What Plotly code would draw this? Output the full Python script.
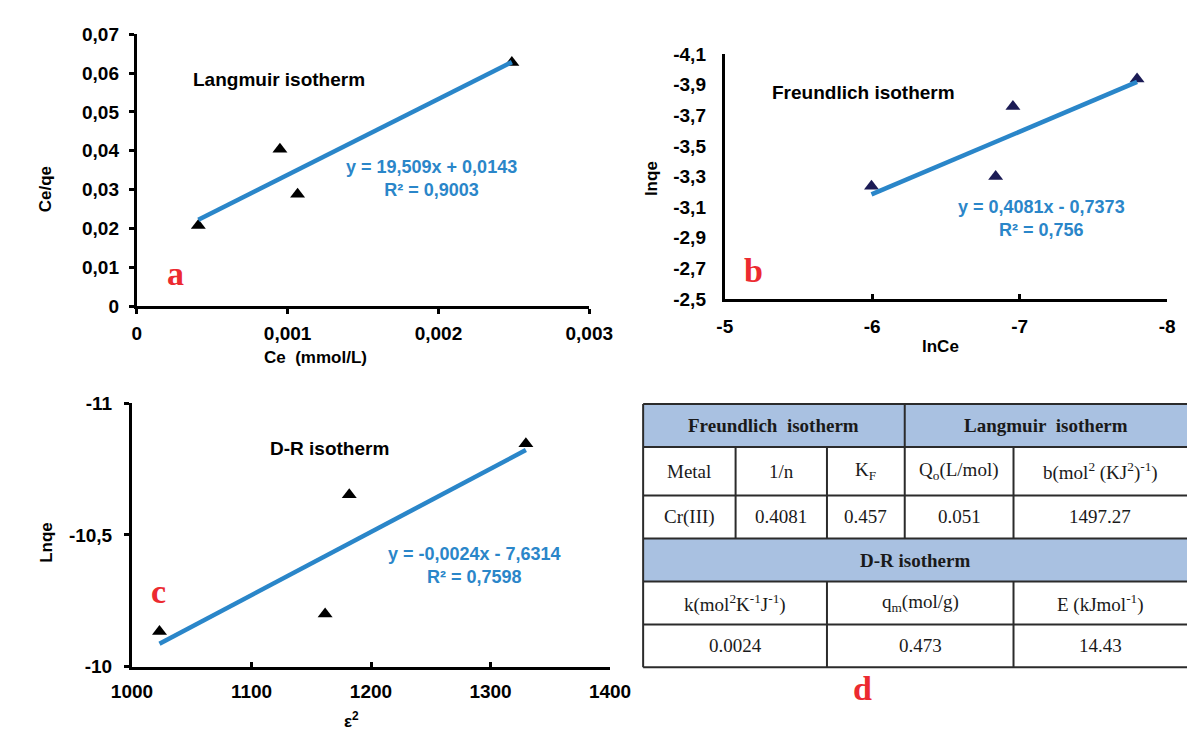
import plotly.graph_objects as go

W, H = 1203, 733

# ---------------- data ----------------
# (a) Langmuir
lang_ce = [0.000408, 0.000949, 0.001066, 0.002487]
lang_ce_qe = [0.0208, 0.0404, 0.0288, 0.0627]
lang_slope, lang_intercept = 19.509, 0.0143
lang_eq = ["y = 19,509x + 0,0143", "R² = 0,9003"]
lang_xtick_vals = [0, 0.001, 0.002, 0.003]
lang_xtick_text = ["0", "0,001", "0,002", "0,003"]
lang_ytick_vals = [0, 0.01, 0.02, 0.03, 0.04, 0.05, 0.06, 0.07]
lang_ytick_text = ["0", "0,01", "0,02", "0,03", "0,04", "0,05", "0,06", "0,07"]

# (b) Freundlich
fr_lnce = [-5.995, -6.837, -6.954, -7.796]
fr_lnqe = [-3.237, -3.300, -3.759, -3.938]
fr_slope, fr_intercept = 0.4081, -0.7373
fr_eq = ["y = 0,4081x - 0,7373", "R² = 0,756"]
fr_xtick_vals = [-5, -6, -7, -8]
fr_xtick_text = ["-5", "-6", "-7", "-8"]
fr_ytick_vals = [-4.1, -3.9, -3.7, -3.5, -3.3, -3.1, -2.9, -2.7, -2.5]
fr_ytick_text = ["-4,1", "-3,9", "-3,7", "-3,5", "-3,3", "-3,1", "-2,9", "-2,7", "-2,5"]

# (c) D-R
dr_eps2 = [1023.0, 1161.6, 1181.8, 1329.6]
dr_lnqe = [-10.133, -10.200, -10.653, -10.846]
dr_slope, dr_intercept = -0.0024, -7.6314
dr_eq = ["y = -0,0024x - 7,6314", "R² = 0,7598"]
dr_xtick_vals = [1000, 1100, 1200, 1300, 1400]
dr_xtick_text = ["1000", "1100", "1200", "1300", "1400"]
dr_ytick_vals = [-11, -10.5, -10]
dr_ytick_text = ["-11", "-10,5", "-10"]

# (d) table
tab_header1 = ["Freundlich\u00a0\u00a0isotherm", "Langmuir\u00a0\u00a0isotherm"]
tab_cols1 = ["Metal", "1/n", "K<sub>F</sub>", "Q<sub>o</sub>(L/mol)",
             "b(mol<sup>2</sup> (KJ<sup>2</sup>)<sup>-1</sup>)"]
tab_vals1 = ["Cr(III)", "0.4081", "0.457", "0.051", "1497.27"]
tab_header2 = "D-R isotherm"
tab_cols2 = ["k(mol<sup>2</sup>K<sup>-1</sup>J<sup>-1</sup>)", "q<sub>m</sub>(mol/g)",
             "E (kJmol<sup>-1</sup>)"]
tab_vals2 = ["0.0024", "0.473", "14.43"]

# ---------------- layout helpers ----------------
def px(x):
    return x / W

def py(y):
    return 1 - y / H

SANS = "Liberation Sans, Arial, sans-serif"
SERIF = "Liberation Serif, Times New Roman, serif"
BLUE = "#2a86c9"
RED = "#ec2a30"

dom_a = dict(x=[px(112), px(582)], y=[py(296.7), py(16.7)])
dom_b = dict(x=[px(722.8), px(1182.4)], y=[py(289.3), py(37.3)])
dom_c = dict(x=[px(107), px(603.6)], y=[py(667.7), py(396.7)])
dom_t = dict(x=[px(638), 1.0], y=[py(668.3), py(397.3)])

fig = go.Figure()

def add_panel(xs, ys, slope, intercept, xa, ya, mcolor):
    fig.add_trace(go.Scatter(
        x=xs, y=ys, mode="markers", xaxis=xa, yaxis=ya,
        marker=dict(symbol="triangle-up", size=13, color=mcolor,
                    line=dict(width=0)),
        showlegend=False, hoverinfo="x+y"))
    x0, x1 = min(xs), max(xs)
    fig.add_trace(go.Scatter(
        x=[x0, x1], y=[slope * x0 + intercept, slope * x1 + intercept],
        mode="lines", xaxis=xa, yaxis=ya,
        line=dict(color=BLUE, width=4.5), showlegend=False, hoverinfo="skip"))

add_panel(lang_ce, lang_ce_qe, lang_slope, lang_intercept, "x", "y", "black")
add_panel(fr_lnce, fr_lnqe, fr_slope, fr_intercept, "x2", "y2", "#1b1b55")
add_panel(dr_eps2, dr_lnqe, dr_slope, dr_intercept, "x3", "y3", "black")

tickfont = dict(family=SANS, size=19, color="black", weight="bold")

def axis(domain, rng, vals, text, anchor, ticks="outside", standoff=5):
    return dict(domain=domain, range=rng, tickmode="array", tickvals=vals,
                ticktext=text, showline=True, linecolor="black", linewidth=3,
                ticks=ticks, ticklen=5, tickwidth=2.5, tickcolor="black",
                showgrid=False, zeroline=False, tickfont=tickfont,
                anchor=anchor, ticklabelstandoff=standoff, fixedrange=True)

layout = dict(
    width=W, height=H, margin=dict(l=0, r=0, t=0, b=0),
    paper_bgcolor="white", plot_bgcolor="white", showlegend=False,
    xaxis=axis(dom_a["x"], [0, 0.003], lang_xtick_vals, lang_xtick_text, "y", standoff=3),
    yaxis=axis(dom_a["y"], [0, 0.07], lang_ytick_vals, lang_ytick_text, "x", standoff=6),
    xaxis2=axis(dom_b["x"], [-5, -8], fr_xtick_vals, fr_xtick_text, "y2", "inside", standoff=8),
    yaxis2=axis(dom_b["y"], [-2.5, -4.1], fr_ytick_vals, fr_ytick_text, "x2", "", standoff=12),
    xaxis3=axis(dom_c["x"], [1000, 1400], dr_xtick_vals, dr_xtick_text, "y3", "inside", standoff=6),
    yaxis3=axis(dom_c["y"], [-10, -11], dr_ytick_vals, dr_ytick_text, "x3", standoff=8),
)
fig.update_layout(**layout)

ann = []

def text(x, y, s, size=18, color="black", family=SANS, weight="bold",
         angle=0, xanchor="center"):
    ann.append(dict(x=x, y=y, xref="paper", yref="paper", text=s,
                    showarrow=False, xanchor=xanchor, yanchor="middle",
                    textangle=angle, align="center",
                    font=dict(family=family, size=size, color=color,
                              weight=weight)))

# panel titles
text(px(260), py(63), "Langmuir isotherm", size=19)
text(px(866.6), py(76.7), "Freundlich isotherm", size=19)
text(px(312.4), py(443.3), "D-R isotherm", size=19)
# equations
text(px(418), py(165), "<br>".join(lang_eq), size=18, color=BLUE)
text(px(1051.6), py(206.7), "<br>".join(fr_eq), size=18, color=BLUE)
text(px(462.5), py(563.7), "<br>".join(dr_eq), size=18, color=BLUE)
# axis titles
text(px(298), py(350), "Ce\u00a0\u00a0(mmol/L)", size=17)
text(px(18), py(176), "Ce/qe", size=17, angle=-90)
text(px(947), py(338), "lnCe", size=17)
text(px(646), py(165), "lnqe", size=17, angle=-90)
text(px(335.5), py(723), "ε<sup>2</sup>", size=17)
text(px(18), py(540), "Lnqe", size=17, angle=-90)
# panel letters
text(px(152), py(263), "a", size=34, color=RED, family=SERIF)
text(px(752.7), py(260), "b", size=34, color=RED, family=SERIF)
text(px(135), py(590), "c", size=34, color=RED, family=SERIF)
text(px(865.7), py(690), "d", size=34, color=RED, family=SERIF)

# ---------------- table ----------------
col_edges = [0.0, 0.170, 0.338, 0.481, 0.681, 1.0]
row_edges = [0.0, 0.164, 0.348, 0.511, 0.675, 0.838, 1.0]
tx0, tx1 = dom_t["x"]
ty0, ty1 = dom_t["y"]

def TX(f):
    return tx0 + f * (tx1 - tx0)

def TY(f):
    return ty1 - f * (ty1 - ty0)

shapes = []
FILL = "#a9c1e1"
LINE = "#2b2b2b"
for r in (0, 3):
    shapes.append(dict(type="rect", xref="paper", yref="paper",
                       x0=TX(0), x1=TX(1), y0=TY(row_edges[r]), y1=TY(row_edges[r + 1]),
                       fillcolor=FILL, line=dict(width=0), layer="below"))
for f in row_edges:
    shapes.append(dict(type="line", xref="paper", yref="paper",
                       x0=TX(0), x1=TX(1), y0=TY(f), y1=TY(f),
                       line=dict(color=LINE, width=2)))

def vline(f, r0, r1):
    shapes.append(dict(type="line", xref="paper", yref="paper",
                       x0=TX(f), x1=TX(f), y0=TY(row_edges[r0]), y1=TY(row_edges[r1]),
                       line=dict(color=LINE, width=2)))

vline(0.0, 0, 6)
vline(col_edges[3], 0, 3)
for c in (1, 2, 4):
    vline(col_edges[c], 1, 3)
for c in (2, 4):
    vline(col_edges[c], 4, 6)

def cell_text(c0, c1, r, s, bold=False):
    xc = TX((col_edges[c0] + col_edges[c1]) / 2)
    yc = TY((row_edges[r] + row_edges[r + 1]) / 2)
    text(xc, yc, s, size=19, color="#1a1a1a", family=SERIF,
         weight="bold" if bold else "normal")

cell_text(0, 3, 0, tab_header1[0], bold=True)
cell_text(3, 5, 0, tab_header1[1], bold=True)
for i, s in enumerate(tab_cols1):
    cell_text(i, i + 1, 1, s)
for i, s in enumerate(tab_vals1):
    cell_text(i, i + 1, 2, s)
cell_text(0, 5, 3, tab_header2, bold=True)
lower_spans = [(0, 2), (2, 4), (4, 5)]
for (c0, c1), s in zip(lower_spans, tab_cols2):
    cell_text(c0, c1, 4, s)
for (c0, c1), s in zip(lower_spans, tab_vals2):
    cell_text(c0, c1, 5, s)

fig.update_layout(annotations=ann, shapes=shapes)
fig.write_html("out.html")
